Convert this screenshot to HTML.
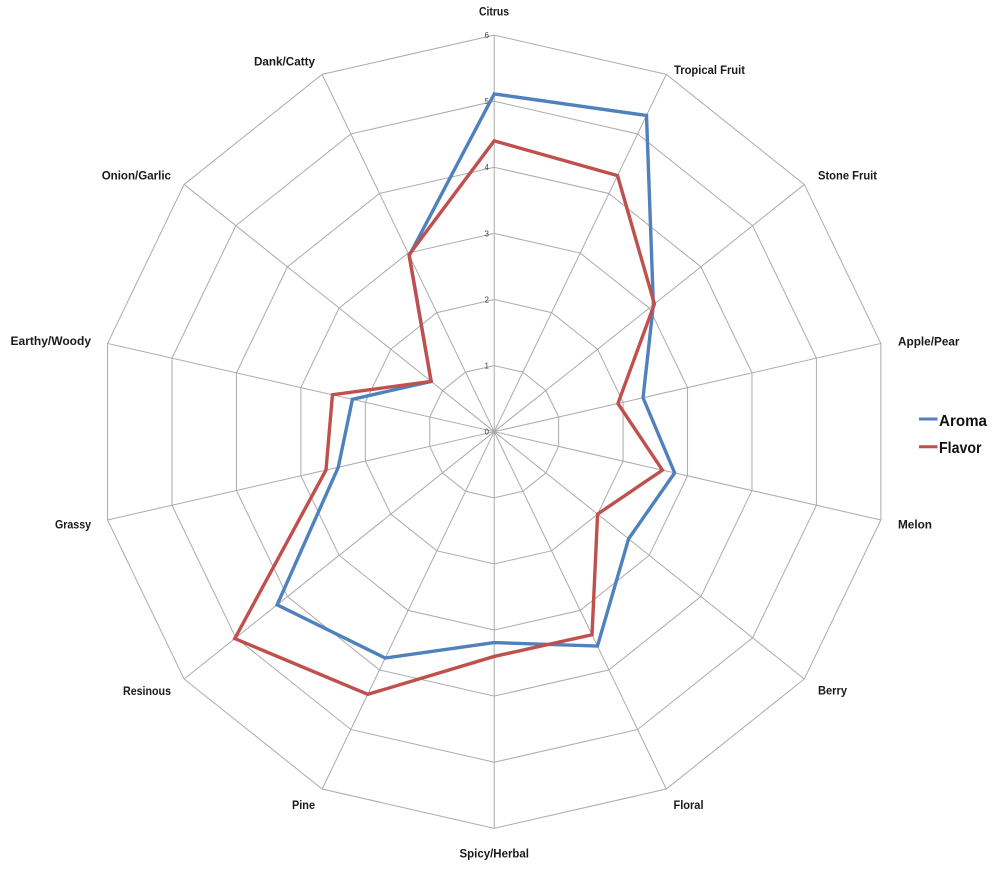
<!DOCTYPE html>
<html>
<head>
<meta charset="utf-8">
<style>
  html,body{margin:0;padding:0;background:#fff;}
  svg{display:block;}
  .lbl{font-family:"Liberation Sans",Arial,sans-serif;font-weight:bold;font-size:12px;fill:#1a1a1a;}
  .tick{font-family:"Liberation Sans",Arial,sans-serif;font-size:8px;fill:#444;}
  .leg{font-family:"Liberation Sans",Arial,sans-serif;font-weight:bold;font-size:15.5px;fill:#111;}
  .grid{fill:none;stroke:#ababab;stroke-width:1;vector-effect:non-scaling-stroke;}
  .ser{fill:none;stroke-width:3.4;stroke-linejoin:miter;vector-effect:non-scaling-stroke;}
</style>
</head>
<body>
<svg width="1000" height="874" viewBox="0 0 1000 874" xmlns="http://www.w3.org/2000/svg">
  <rect width="1000" height="874" fill="#fff"/>
  <!-- grid rings -->
  <g>
    <polygon class="grid" transform="translate(494.2,431.7) scale(66.1)" points="0,-1 .43388,-.90097 .78183,-.62349 .97493,-.22252 .97493,.22252 .78183,.62349 .43388,.90097 0,1 -.43388,.90097 -.78183,.62349 -.97493,.22252 -.97493,-.22252 -.78183,-.62349 -.43388,-.90097"/>
    <polygon class="grid" transform="translate(494.2,431.7) scale(132.2)" points="0,-1 .43388,-.90097 .78183,-.62349 .97493,-.22252 .97493,.22252 .78183,.62349 .43388,.90097 0,1 -.43388,.90097 -.78183,.62349 -.97493,.22252 -.97493,-.22252 -.78183,-.62349 -.43388,-.90097"/>
    <polygon class="grid" transform="translate(494.2,431.7) scale(198.3)" points="0,-1 .43388,-.90097 .78183,-.62349 .97493,-.22252 .97493,.22252 .78183,.62349 .43388,.90097 0,1 -.43388,.90097 -.78183,.62349 -.97493,.22252 -.97493,-.22252 -.78183,-.62349 -.43388,-.90097"/>
    <polygon class="grid" transform="translate(494.2,431.7) scale(264.4)" points="0,-1 .43388,-.90097 .78183,-.62349 .97493,-.22252 .97493,.22252 .78183,.62349 .43388,.90097 0,1 -.43388,.90097 -.78183,.62349 -.97493,.22252 -.97493,-.22252 -.78183,-.62349 -.43388,-.90097"/>
    <polygon class="grid" transform="translate(494.2,431.7) scale(330.5)" points="0,-1 .43388,-.90097 .78183,-.62349 .97493,-.22252 .97493,.22252 .78183,.62349 .43388,.90097 0,1 -.43388,.90097 -.78183,.62349 -.97493,.22252 -.97493,-.22252 -.78183,-.62349 -.43388,-.90097"/>
    <polygon class="grid" transform="translate(494.2,431.7) scale(396.6)" points="0,-1 .43388,-.90097 .78183,-.62349 .97493,-.22252 .97493,.22252 .78183,.62349 .43388,.90097 0,1 -.43388,.90097 -.78183,.62349 -.97493,.22252 -.97493,-.22252 -.78183,-.62349 -.43388,-.90097"/>
    <path class="grid" transform="translate(494.2,431.7) scale(396.6)" d="M0,0L0,-1M0,0L.43388,-.90097M0,0L.78183,-.62349M0,0L.97493,-.22252M0,0L.97493,.22252M0,0L.78183,.62349M0,0L.43388,.90097M0,0L0,1M0,0L-.43388,.90097M0,0L-.78183,.62349M0,0L-.97493,.22252M0,0L-.97493,-.22252M0,0L-.78183,-.62349M0,0L-.43388,-.90097"/>
  </g>
  <!-- tick labels -->
  <g class="tick" text-anchor="end">
    <text x="489" y="434.5">0</text>
    <text x="489" y="368.5">1</text>
    <text x="489" y="302.4">2</text>
    <text x="489" y="236.3">3</text>
    <text x="489" y="170.2">4</text>
    <text x="489" y="104.1">5</text>
    <text x="489" y="38">6</text>
  </g>
  <!-- series -->
  <polygon class="ser" stroke="#4f81bd" transform="translate(494.2,431.7) scale(66.1)" points="0,-5.11 2.304,-4.784 2.408,-1.920 2.252,-0.514 2.730,0.623 2.033,1.621 1.562,3.243 0,3.19 -1.649,3.424 -3.284,2.619 -2.359,0.538 -2.145,-0.490 -0.954,-0.761 -1.284,-2.667"/>
  <polygon class="ser" stroke="#c0504d" transform="translate(494.2,431.7) scale(66.1)" points="0,-4.40 1.866,-3.874 2.424,-1.933 1.872,-0.427 2.545,0.581 1.564,1.247 1.480,3.072 0,3.4 -1.913,3.973 -3.925,3.130 -2.545,0.581 -2.447,-0.559 -0.954,-0.761 -1.289,-2.676"/>
  <!-- category labels -->
  <g class="lbl">
    <text x="479" y="15.7" textLength="30" lengthAdjust="spacingAndGlyphs">Citrus</text>
    <text x="674" y="74" textLength="71" lengthAdjust="spacingAndGlyphs">Tropical Fruit</text>
    <text x="818" y="179.5" textLength="59" lengthAdjust="spacingAndGlyphs">Stone Fruit</text>
    <text x="898" y="345.5" textLength="61.5" lengthAdjust="spacingAndGlyphs">Apple/Pear</text>
    <text x="898" y="528.5" textLength="34" lengthAdjust="spacingAndGlyphs">Melon</text>
    <text x="818" y="694.5" textLength="29" lengthAdjust="spacingAndGlyphs">Berry</text>
    <text x="673.5" y="809" textLength="30" lengthAdjust="spacingAndGlyphs">Floral</text>
    <text x="459.5" y="857.7" textLength="69.5" lengthAdjust="spacingAndGlyphs">Spicy/Herbal</text>
    <text x="292" y="809" textLength="23" lengthAdjust="spacingAndGlyphs">Pine</text>
    <text x="123" y="695" textLength="48" lengthAdjust="spacingAndGlyphs">Resinous</text>
    <text x="55" y="528.5" textLength="36" lengthAdjust="spacingAndGlyphs">Grassy</text>
    <text x="91" y="345" text-anchor="end">Earthy/Woody</text>
    <text x="101.7" y="179.3" textLength="69.3" lengthAdjust="spacingAndGlyphs">Onion/Garlic</text>
    <text x="254" y="65.3" textLength="61" lengthAdjust="spacingAndGlyphs">Dank/Catty</text>
  </g>
  <!-- legend -->
  <line x1="919" y1="419" x2="937.5" y2="419" stroke="#4f81bd" stroke-width="3"/>
  <text class="leg" x="939" y="426" textLength="48" lengthAdjust="spacingAndGlyphs">Aroma</text>
  <line x1="919" y1="446.7" x2="937.5" y2="446.7" stroke="#c0504d" stroke-width="3"/>
  <text class="leg" x="939" y="453" textLength="42.5" lengthAdjust="spacingAndGlyphs">Flavor</text>
</svg>
</body>
</html>
